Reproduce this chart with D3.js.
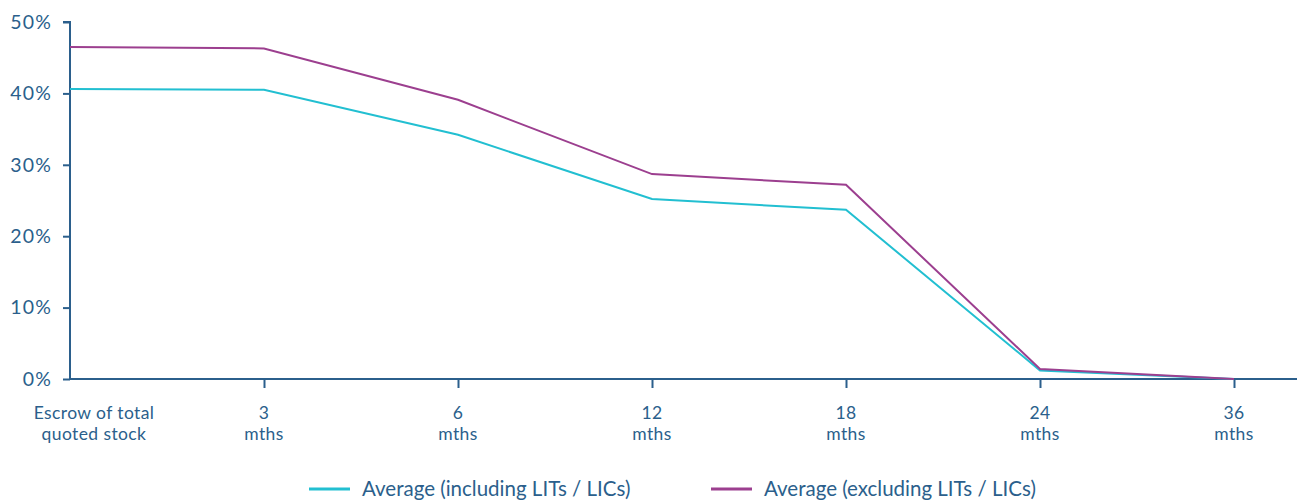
<!DOCTYPE html>
<html>
<head>
<meta charset="utf-8">
<script src="https://cdn.jsdelivr.net/npm/d3@7"></script>
<style>
  html, body { margin: 0; padding: 0; background: #fff; }
  svg { display: block; }
  text { font-family: Lato, "Open Sans", sans-serif; fill: #2b5f8c; }
</style>
</head>
<body>
<svg id="chart" width="1304" height="502"></svg>
<script>
// Escrow release schedule: share of quoted stock still in escrow
const categories = ["Escrow of total|quoted stock", "3|mths", "6|mths", "12|mths", "18|mths", "24|mths", "36|mths"];
const includingLITs = [40.6, 40.5, 34.2, 25.2, 23.7, 1.2, 0];
const excludingLITs = [46.5, 46.3, 39.1, 28.7, 27.2, 1.4, 0];
const yTicks = [0, 10, 20, 30, 40, 50];
const seriesNames = ["Average (including LITs / LICs)", "Average (excluding LITs / LICs)"];
const seriesColors = ["#22bfd1", "#9c3f8f"];

const axisColor = "#2b5f8c";
const svg = d3.select("#chart");

const x = d3.scalePoint().domain(categories).range([70, 1234]);
const y = d3.scaleLinear().domain([0, 50]).range([379, 22]);

// y axis
const yAxis = svg.append("g").attr("transform", "translate(70,0)")
  .call(d3.axisLeft(y).tickValues(yTicks).tickFormat(d => d + "%").tickSize(7).tickPadding(11));
yAxis.select(".domain").attr("stroke", axisColor).attr("stroke-width", 2).attr("d", "M-7,22H0V379");
yAxis.selectAll(".tick line").attr("stroke", axisColor).attr("stroke-width", 2);
yAxis.selectAll(".tick text").attr("font-size", 19.5).attr("fill", axisColor)
  .attr("letter-spacing", 1.2)
  .style("font-family", "Lato, sans-serif");

// x axis
const xAxis = svg.append("g").attr("transform", "translate(0,379)")
  .call(d3.axisBottom(x).tickSize(9).tickFormat(""));
xAxis.select(".domain").attr("stroke", axisColor).attr("stroke-width", 2).attr("d", "M70,0H1297");
xAxis.selectAll(".tick line").attr("stroke", axisColor).attr("stroke-width", 2)
  .attr("opacity", (d, i) => i === 0 ? 0 : 1);

// two-line category labels, one text element per line
const labelG = svg.append("g");
categories.forEach((c, i) => {
  const lines = c.split("|");
  const cx = i === 0 ? x(c) + 24 : x(c);
  lines.forEach((ln, j) => {
    labelG.append("text")
      .attr("x", cx).attr("y", 419 + j * 21)
      .attr("text-anchor", "middle").attr("font-size", 17.5)
      .attr("letter-spacing", 0.4).attr("fill", axisColor)
      .text(ln);
  });
});

// series lines
const line = d3.line().x((d, i) => x(categories[i])).y(d => y(d));
[includingLITs, excludingLITs].forEach((vals, k) => {
  svg.append("path").datum(vals)
    .attr("fill", "none").attr("stroke", seriesColors[k]).attr("stroke-width", 2)
    .attr("stroke-linejoin", "miter").attr("d", line);
});

// legend
const legendX = [309, 711];
seriesNames.forEach((name, k) => {
  const g = svg.append("g").attr("transform", `translate(${legendX[k]},489)`);
  g.append("line").attr("x1", 0).attr("x2", 41).attr("y1", 0).attr("y2", 0)
    .attr("stroke", seriesColors[k]).attr("stroke-width", 3);
  g.append("text").attr("x", 53).attr("y", 6.5).attr("font-size", 20.5)
    .attr("fill", axisColor).text(name);
});
</script>
</body>
</html>
